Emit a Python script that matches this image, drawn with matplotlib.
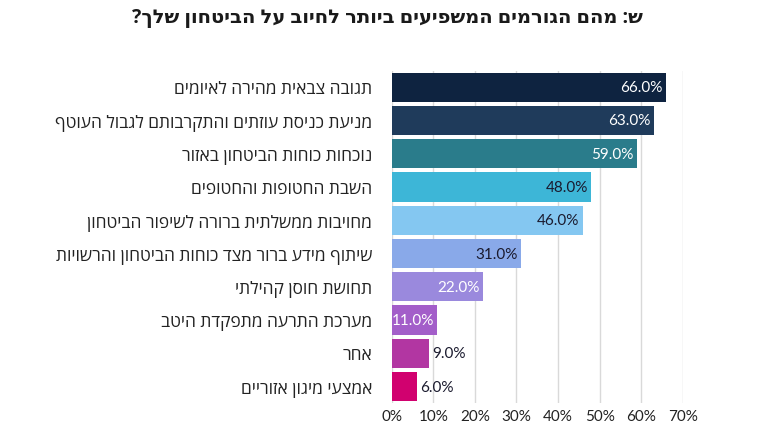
import matplotlib
matplotlib.use("Agg")
import matplotlib.pyplot as plt
import numpy as np

title = "ש: מהם הגורמים המשפיעים ביותר לחיוב על הביטחון שלך?"
categories = [
    "תגובה צבאית מהירה לאיומים",
    "מניעת כניסת עוזתים והתקרבותם לגבול העוטף",
    "נוכחות כוחות הביטחון באזור",
    "השבת החטופות והחטופים",
    "מחויבות ממשלתית ברורה לשיפור הביטחון",
    "שיתוף מידע ברור מצד כוחות הביטחון והרשויות",
    "תחושת חוסן קהילתי",
    "מערכת התרעה מתפקדת היטב",
    "אחר",
    "אמצעי מיגון אזוריים",
]
values = [66, 63, 59, 48, 46, 31, 22, 11, 9, 6]
colors = ["#0e2340", "#1f3b5b", "#2a7c8b", "#3db6d7", "#84c7f1",
          "#89a9e9", "#9a89dd", "#a35ec9", "#b236a2", "#d1016f"]
label_colors = ["white", "white", "white", "#1a1a2e", "#1a1a2e",
                "#1a1a2e", "white", "white", "#1a1a2e", "#1a1a2e"]
xticks = [0, 10, 20, 30, 40, 50, 60, 70]


def rtl(s):
    # matplotlib has no bidi support, so flip Hebrew text for display
    return s[::-1]


heb = ["Open Sans", "DejaVu Sans"]
num = ["Lato", "DejaVu Sans"]

fig = plt.figure(figsize=(7.68, 4.31), dpi=100)
ax = fig.add_axes([0.510, 0.062, 0.379, 0.772])

y = np.arange(len(values))
ax.barh(y, values, height=0.88, color=colors, zorder=3)
ax.set_ylim(len(values) - 0.5, -0.5)
ax.set_xlim(0, 70)

for i, v in enumerate(values):
    txt = f"{v:.1f}%"
    if v > 10:
        ax.text(v - 0.8, i, txt, ha="right", va="center", color=label_colors[i],
                fontsize=11, family=num, zorder=4)
    else:
        ax.text(v + 0.8, i, txt, ha="left", va="center", color=label_colors[i],
                fontsize=11, family=num, zorder=4)

ax.set_yticks(y)
ax.set_yticklabels([rtl(c) for c in categories], fontsize=12.5, family=heb, color="#222222")
ax.set_xticks(xticks)
ax.set_xticklabels([f"{t}%" for t in xticks], fontsize=11, family=num, color="#222222")
ax.tick_params(axis="y", length=0, pad=14)
ax.tick_params(axis="x", length=0, pad=4)
ax.grid(axis="x", color="#d9d9d9", linewidth=1, zorder=0)
for s in ax.spines.values():
    s.set_visible(False)

fig.text(0.505, 0.958, rtl(title), ha="center", va="center", fontsize=14,
         fontweight="bold", family=heb, color="#1a1a1a")

fig.savefig("out.png", dpi=100)
